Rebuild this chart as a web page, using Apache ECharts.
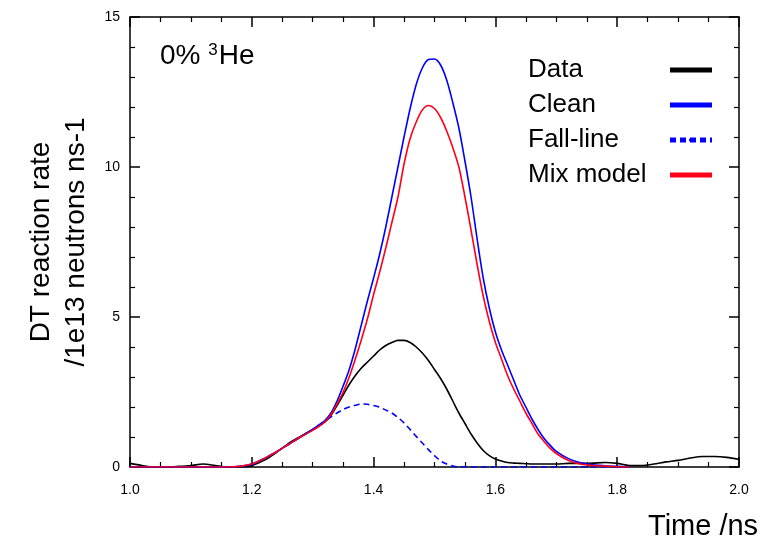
<!DOCTYPE html>
<html>
<head>
<meta charset="utf-8">
<script src="https://cdn.jsdelivr.net/npm/echarts@6/dist/echarts.min.js"></script>
<style>html,body{margin:0;padding:0;background:#fff;overflow:hidden}#c{width:769px;height:541px}</style>
</head>
<body>
<div id="c"></div>
<script>
// Time grid (ns)
var time = [1.00,1.02,1.04,1.06,1.08,1.10,1.12,1.14,1.16,1.18,1.20,1.22,1.24,1.26,1.28,
  1.30,1.31,1.32,1.33,1.34,1.35,1.36,1.37,1.38,1.39,1.40,1.41,1.42,1.43,1.44,1.45,1.46,1.47,1.48,1.49,
  1.50,1.51,1.52,1.53,1.54,1.55,1.56,1.57,1.58,1.59,1.60,1.61,1.62,1.63,1.64,1.65,1.66,1.67,1.68,1.69,1.70,
  1.72,1.74,1.76,1.78,1.80,1.82,1.84,1.86,1.88,1.90,1.92,1.94,1.96,1.98,2.00];
// DT reaction rate (1e13 neutrons/ns)
var dataRate = [0.12,0.05,0.0,0.0,0.02,0.05,0.1,0.05,0.0,0.0,0.05,0.22,0.48,0.78,1.02,
  1.25,1.37,1.5,1.72,2.05,2.4,2.75,3.05,3.3,3.5,3.7,3.9,4.05,4.15,4.22,4.22,4.15,4.0,3.8,3.55,
  3.25,2.95,2.6,2.2,1.8,1.45,1.1,0.8,0.55,0.38,0.27,0.2,0.15,0.13,0.12,0.11,0.1,0.1,0.1,0.1,0.1,
  0.12,0.12,0.13,0.15,0.12,0.05,0.05,0.1,0.17,0.22,0.3,0.35,0.35,0.32,0.25];
var cleanRate = [0,0,0,0,0,0,0,0,0,0.02,0.1,0.28,0.5,0.75,1.0,
  1.25,1.4,1.55,1.8,2.2,2.7,3.25,3.95,4.75,5.55,6.3,7.1,8.0,9.0,10.0,11.0,11.95,12.75,13.3,13.58,
  13.6,13.4,12.9,12.15,11.3,10.2,9.0,7.6,6.3,5.3,4.5,3.9,3.4,2.9,2.4,2.0,1.6,1.25,0.95,0.72,0.52,
  0.28,0.14,0.07,0.04,0.02,0.0];
var fallRate = [0,0,0,0,0,0,0,0,0,0.02,0.08,0.28,0.5,0.75,1.0,
  1.25,1.38,1.52,1.67,1.8,1.92,2.0,2.06,2.1,2.09,2.05,1.99,1.9,1.8,1.65,1.47,1.25,1.02,0.8,0.58,
  0.38,0.2,0.1,0.03,0,0,0,0,0,0,0,0,0,0,0,0,0,0,0,0,0,
  0,0,0,0,0,0];
var mixRate = [0,0,0,0,0,0,0,0,0,0.02,0.1,0.28,0.5,0.75,1.0,
  1.22,1.35,1.5,1.75,2.1,2.5,3.0,3.6,4.25,4.95,5.75,6.5,7.3,8.15,9.0,10.1,10.95,11.5,11.9,12.05,
  11.95,11.65,11.2,10.65,10.0,9.0,7.9,6.75,5.7,4.85,4.15,3.6,3.05,2.6,2.2,1.8,1.45,1.1,0.85,0.62,0.45,
  0.22,0.1,0.05,0.03,0.01,0.0];
var xTicks = ['1.0','1.2','1.4','1.6','1.8','2.0'];
var yTicks = ['0','5','10','15'];
var seriesNames = ['Data','Clean','Fall-line','Mix model'];

function pairs(v){ return v.map(function(y,i){ return [time[i], y]; }); }

var chart = echarts.init(document.getElementById('c'));
var FONT = 'Liberation Sans, Arial, sans-serif';
function xAxisDef(pos, labels){
  return {
    type:'value', position:pos, min:1, max:2, interval:0.2,
    axisLine:{show:true, onZero:false, lineStyle:{color:'#000', width:1.5}},
    axisTick:{show:true, inside:true, length:10, lineStyle:{color:'#000', width:1.5}},
    minorTick:{show:true, splitNumber:4, length:5, lineStyle:{color:'#000', width:1.2}},
    splitLine:{show:false},
    axisLabel:{show:labels, color:'#000', fontSize:14, fontFamily:FONT, margin:16,
      formatter:function(v){ var s=v.toFixed(1); return xTicks.indexOf(s)>=0 ? s : ''; }}
  };
}
function yAxisDef(pos, labels){
  return {
    type:'value', position:pos, min:0, max:15, interval:5,
    axisLine:{show:true, onZero:false, lineStyle:{color:'#000', width:1.5}},
    axisTick:{show:true, inside:true, length:10, lineStyle:{color:'#000', width:1.5}},
    minorTick:{show:true, splitNumber:5, length:5, lineStyle:{color:'#000', width:1.2}},
    splitLine:{show:false},
    axisLabel:{show:labels, color:'#000', fontSize:14, fontFamily:FONT, margin:10,
      formatter:function(v){ var s=String(v); return yTicks.indexOf(s)>=0 ? s : ''; }}
  };
}
var xb = xAxisDef('bottom', true);
xb.name = 'Time /ns';
xb.nameLocation = 'end';
xb.nameGap = -91;
xb.nameTextStyle = {color:'#000', fontSize:29, fontFamily:FONT, align:'left', verticalAlign:'top', padding:[45,0,0,0]};
var xt = xAxisDef('top', false);
var yl = yAxisDef('left', true);
yl.name = 'DT reaction rate\n/1e13 neutrons ns-1';
yl.nameLocation = 'middle';
yl.nameRotate = 90;
yl.nameGap = 27;
yl.nameTextStyle = {color:'#000', fontSize:28, fontFamily:FONT, lineHeight:35};
var yr = yAxisDef('right', false);

var colors = ['#000000','#0000ff','#0000ff','#ff0018'];
var values = [dataRate, cleanRate, fallRate, mixRate];
var series = seriesNames.map(function(n,i){
  return {
    name:n, type:'line', xAxisIndex:0, yAxisIndex:0, data:pairs(values[i]),
    symbol:'none', smooth:0.3, clip:true,
    lineStyle:{color:colors[i], width:1.6, type: i===2 ? [6,4] : 'solid'},
    itemStyle:{color:colors[i]},
    emphasis:{disabled:true}, animation:false
  };
});

chart.setOption({
  animation:false,
  backgroundColor:'#fff',
  title:{
    text:'0% {s|3}He', left:155, top:37,
    textStyle:{color:'#000', fontSize:28, fontWeight:'normal', fontFamily:FONT,
      rich:{s:{fontSize:17, fontFamily:FONT, color:'#000', verticalAlign:'top', padding:[0,1,0,0]}}}
  },
  legend:{
    orient:'vertical', left:523, top:50, align:'right', itemGap:5,
    itemWidth:42, itemHeight:5,
    data: seriesNames,
    lineStyle:{width:5},
    formatter:function(n){ return '{a|' + n + '}'; },
    textStyle:{color:'#000', fontSize:26, fontFamily:FONT, lineHeight:30,
      rich:{a:{width:137, align:'left', color:'#000', fontSize:26, fontFamily:FONT, lineHeight:30}}},
    selectedMode:false
  },
  grid:{left:130, right:30, top:17, bottom:74, containLabel:false, outerBoundsMode:'none'},
  xAxis:[xb, xt],
  yAxis:[yl, yr],
  series:series
});
</script>
</body>
</html>
